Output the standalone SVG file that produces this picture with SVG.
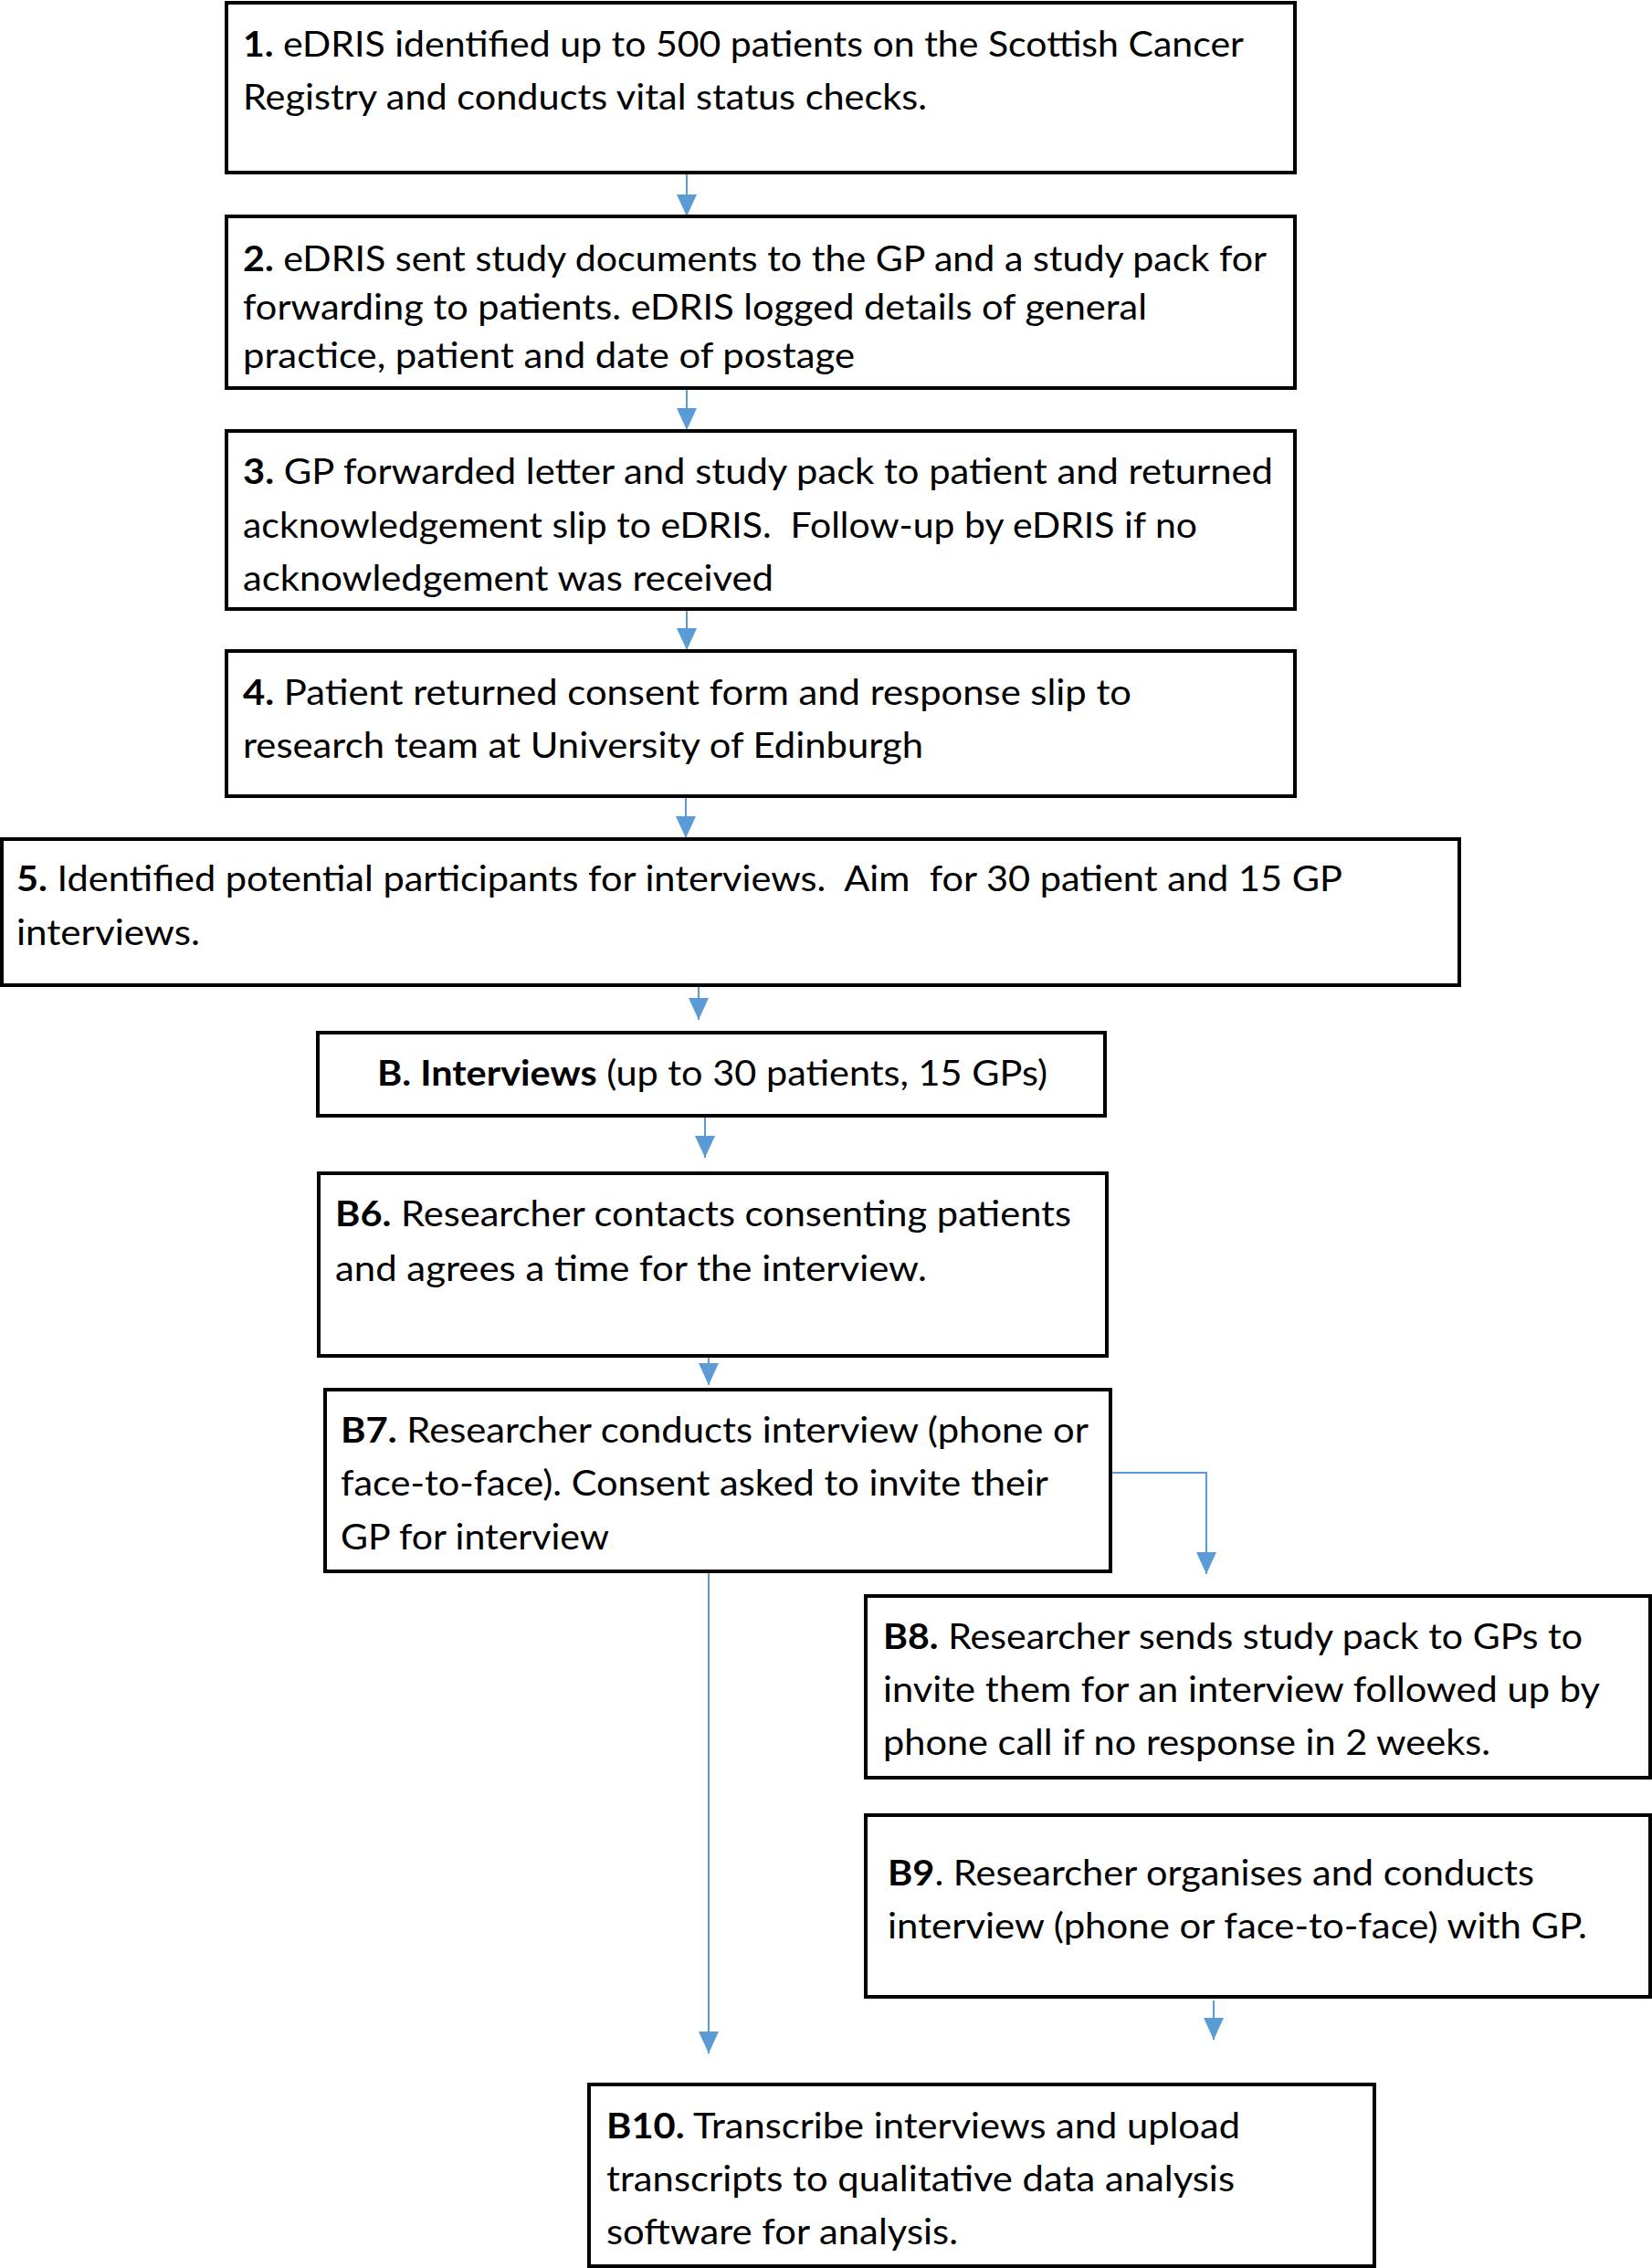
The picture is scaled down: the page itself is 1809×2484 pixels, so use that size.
<svg xmlns="http://www.w3.org/2000/svg" width="1809" height="2484" viewBox="0 0 1809 2484">
<style>
.box{fill:#fff;stroke:#000;stroke-width:4}
.t{font-family:Lato,"Open Sans","Liberation Sans",sans-serif;font-size:39px;fill:#000;white-space:pre}
.b{font-weight:bold}
.c{fill:none;stroke:#5B9BD5;stroke-width:2}
</style>
<defs>
<marker id="ah" markerUnits="userSpaceOnUse" markerWidth="24" markerHeight="24" viewBox="0 0 24 24" refX="24" refY="12" orient="auto">
<path d="M0,1 L24,12 L0,23 Z" fill="#5B9BD5"/>
</marker>
</defs>
<rect width="1809" height="2484" fill="#fff"/>
<g id="connectors">
<path class="c" d="M752,189 V237" marker-end="url(#ah)"/>
<path class="c" d="M752,425 V471" marker-end="url(#ah)"/>
<path class="c" d="M752,667 V712" marker-end="url(#ah)"/>
<path class="c" d="M751,872 V918" marker-end="url(#ah)"/>
<path class="c" d="M765,1071 V1117" marker-end="url(#ah)"/>
<path class="c" d="M772,1222 V1268" marker-end="url(#ah)"/>
<path class="c" d="M776,1475 V1517" marker-end="url(#ah)"/>
<path class="c" d="M1216,1613 H1321 V1724" marker-end="url(#ah)"/>
<path class="c" d="M776,1721 V2249" marker-end="url(#ah)"/>
<path class="c" d="M1329,2191 V2234" marker-end="url(#ah)"/>
</g>
<g id="n1">
<rect class="box" x="248" y="3" width="1170" height="186"/>
<text class="t" x="266" y="62" textLength="1096" lengthAdjust="spacingAndGlyphs"><tspan class="b">1.</tspan> eDRIS identified up to 500 patients on the Scottish Cancer</text>
<text class="t" x="266" y="120" textLength="749" lengthAdjust="spacingAndGlyphs">Registry and conducts vital status checks.</text>
</g>
<g id="n2">
<rect class="box" x="248" y="237" width="1170" height="188"/>
<text class="t" x="266" y="297" textLength="1121" lengthAdjust="spacingAndGlyphs"><tspan class="b">2.</tspan> eDRIS sent study documents to the GP and a study pack for</text>
<text class="t" x="266" y="350" textLength="990" lengthAdjust="spacingAndGlyphs">forwarding to patients. eDRIS logged details of general</text>
<text class="t" x="266" y="403" textLength="670" lengthAdjust="spacingAndGlyphs">practice, patient and date of postage</text>
</g>
<g id="n3">
<rect class="box" x="248" y="472" width="1170" height="195"/>
<text class="t" x="266" y="530" textLength="1128" lengthAdjust="spacingAndGlyphs"><tspan class="b">3.</tspan> GP forwarded letter and study pack to patient and returned</text>
<text class="t" x="266" y="589" textLength="1045" lengthAdjust="spacingAndGlyphs">acknowledgement slip to eDRIS.  Follow-up by eDRIS if no</text>
<text class="t" x="266" y="647" textLength="581" lengthAdjust="spacingAndGlyphs">acknowledgement was received</text>
</g>
<g id="n4">
<rect class="box" x="248" y="713" width="1170" height="159"/>
<text class="t" x="266" y="772" textLength="973" lengthAdjust="spacingAndGlyphs"><tspan class="b">4.</tspan> Patient returned consent form and response slip to</text>
<text class="t" x="266" y="830" textLength="745" lengthAdjust="spacingAndGlyphs">research team at University of Edinburgh</text>
</g>
<g id="n5">
<rect class="box" x="2" y="919" width="1596" height="160"/>
<text class="t" x="18" y="976" textLength="1452" lengthAdjust="spacingAndGlyphs"><tspan class="b">5.</tspan> Identified potential participants for interviews.  Aim  for 30 patient and 15 GP</text>
<text class="t" x="18" y="1035" textLength="201" lengthAdjust="spacingAndGlyphs">interviews.</text>
</g>
<g id="nB">
<rect class="box" x="348" y="1131" width="862" height="91"/>
<text class="t" x="413" y="1189" textLength="734" lengthAdjust="spacingAndGlyphs"><tspan class="b">B. Interviews</tspan> (up to 30 patients, 15 GPs)</text>
</g>
<g id="nB6">
<rect class="box" x="349" y="1285" width="863" height="200"/>
<text class="t" x="367" y="1343" textLength="806" lengthAdjust="spacingAndGlyphs"><tspan class="b">B6.</tspan> Researcher contacts consenting patients</text>
<text class="t" x="367" y="1403" textLength="648" lengthAdjust="spacingAndGlyphs">and agrees a time for the interview.</text>
</g>
<g id="nB7">
<rect class="box" x="356" y="1522" width="860" height="199"/>
<text class="t" x="373" y="1580" textLength="819" lengthAdjust="spacingAndGlyphs"><tspan class="b">B7.</tspan> Researcher conducts interview (phone or</text>
<text class="t" x="373" y="1638" textLength="775" lengthAdjust="spacingAndGlyphs">face-to-face). Consent asked to invite their</text>
<text class="t" x="373" y="1697" textLength="294" lengthAdjust="spacingAndGlyphs">GP for interview</text>
</g>
<g id="nB8">
<rect class="box" x="948" y="1748" width="859" height="199"/>
<text class="t" x="967" y="1806" textLength="766" lengthAdjust="spacingAndGlyphs"><tspan class="b">B8.</tspan> Researcher sends study pack to GPs to</text>
<text class="t" x="967" y="1864" textLength="785" lengthAdjust="spacingAndGlyphs">invite them for an interview followed up by</text>
<text class="t" x="967" y="1922" textLength="665" lengthAdjust="spacingAndGlyphs">phone call if no response in 2 weeks.</text>
</g>
<g id="nB9">
<rect class="box" x="948" y="1988" width="859" height="199"/>
<text class="t" x="972" y="2065" textLength="708" lengthAdjust="spacingAndGlyphs"><tspan class="b">B9</tspan>. Researcher organises and conducts</text>
<text class="t" x="972" y="2123" textLength="766" lengthAdjust="spacingAndGlyphs">interview (phone or face-to-face) with GP.</text>
</g>
<g id="nB10">
<rect class="box" x="645" y="2283" width="860" height="199"/>
<text class="t" x="664" y="2342" textLength="694" lengthAdjust="spacingAndGlyphs"><tspan class="b">B10.</tspan> Transcribe interviews and upload</text>
<text class="t" x="664" y="2400" textLength="688" lengthAdjust="spacingAndGlyphs">transcripts to qualitative data analysis</text>
<text class="t" x="664" y="2458" textLength="385" lengthAdjust="spacingAndGlyphs">software for analysis.</text>
</g>
</svg>
